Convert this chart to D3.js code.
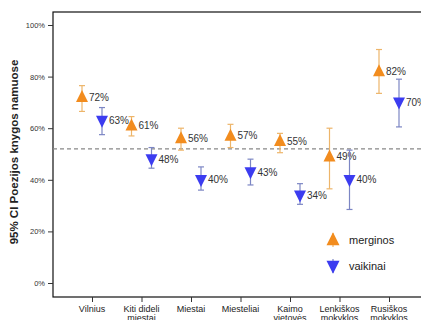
<!DOCTYPE html>
<html>
<head>
<meta charset="utf-8">
<script src="https://cdn.jsdelivr.net/npm/d3@7"></script>
<style>
  body { margin: 0; background: #fff; }
  svg text { font-family: Arial, "Liberation Sans", sans-serif; }
</style>
</head>
<body>
<div id="chart"></div>
<script>
const categories = [["Vilnius"], ["Kiti dideli", "miestai"], ["Miestai"], ["Miesteliai"],
    ["Kaimo", "vietovės"], ["Lenkiškos", "mokyklos"], ["Rusiškos", "mokyklos"]];
const girlsMean = [72, 61, 56, 57, 55, 49, 82];
const girlsLow = [66.5, 57, 51.5, 52.5, 50.5, 36.5, 73.5];
const girlsHigh = [76.5, 64.5, 60, 61.5, 58, 60, 90.5];
const boysMean = [63, 48, 40, 43, 34, 40, 70];
const boysLow = [57.5, 44.5, 36, 38, 30.5, 28.5, 60.5];
const boysHigh = [68, 52.5, 45, 48, 38.5, 51.5, 79];
const refLine = 52;
const yTicks = [0, 20, 40, 60, 80, 100];
const seriesNames = ["merginos", "vaikinai"];

const width = 421, height = 320;
const svg = d3.select('#chart').append('svg')
    .attr('width', width).attr('height', height);

const frame = { left: 53, top: 12, right: 428, bottom: 297 };

const x = d3.scalePoint()
    .domain(d3.range(categories.length))
    .range([92, 389]);
const y = d3.scaleLinear().domain([0, 100]).range([283, 25]);

// frame
svg.append("rect")
    .attr("x", frame.left).attr("y", frame.top)
    .attr("width", frame.right - frame.left)
    .attr("height", frame.bottom - frame.top)
    .attr("fill", "none").attr("stroke", "#111").attr("stroke-width", 1.2);

// y axis
const yAxis = svg.append("g")
    .attr("transform", `translate(${frame.left},0)`)
    .call(d3.axisLeft(y).tickValues(yTicks).tickSize(5).tickFormat(d => d + "%"));
yAxis.select(".domain").remove();
yAxis.selectAll("line").attr("stroke", "#333");
yAxis.selectAll("text").attr("font-size", 7.5).attr("fill", "#333")
    .attr("font-family", "Arial, 'Liberation Sans', sans-serif");

// x axis
const xAxis = svg.append("g")
    .attr("transform", `translate(0,${frame.bottom})`)
    .call(d3.axisBottom(x).tickSize(5).tickFormat(""));
xAxis.select(".domain").remove();
xAxis.selectAll("line").attr("stroke", "#333");
categories.forEach((lines, i) => {
    const t = svg.append("text")
        .attr("x", x(i)).attr("y", 312)
        .attr("text-anchor", "middle")
        .attr("font-size", 9).attr("fill", "#222");
    lines.forEach((l, j) => {
        t.append("tspan").attr("x", x(i)).attr("dy", j === 0 ? 0 : 9).text(l);
    });
});

// y title
svg.append("text")
    .attr("transform", `translate(18,152) rotate(-90)`)
    .attr("text-anchor", "middle")
    .attr("font-size", 11.5).attr("font-weight", "bold").attr("fill", "#222")
    .text("95% CI Poezijos knygos namuose");

// reference line
svg.append("line")
    .attr("x1", frame.left).attr("x2", frame.right)
    .attr("y1", y(refLine)).attr("y2", y(refLine))
    .attr("stroke", "#888").attr("stroke-width", 1.2)
    .attr("stroke-dasharray", "4,3");

const series = [
    { mean: girlsMean, low: girlsLow, high: girlsHigh, dx: -10, up: true,
      fill: "#F28C1E", bar: "#EDB56A" },
    { mean: boysMean, low: boysLow, high: boysHigh, dx: 10, up: false,
      fill: "#3C3CF0", bar: "#7C86C4" }
];

const tri = (cx, cy, up, s) => up
    ? `M${cx},${cy - s * 0.6}L${cx + s / 2},${cy + s * 0.4}L${cx - s / 2},${cy + s * 0.4}Z`
    : `M${cx},${cy + s * 0.6}L${cx + s / 2},${cy - s * 0.4}L${cx - s / 2},${cy - s * 0.4}Z`;

series.forEach(s => {
    const g = svg.append("g");
    s.mean.forEach((v, i) => {
        const cx = x(i) + s.dx;
        g.append("line")
            .attr("x1", cx).attr("x2", cx)
            .attr("y1", y(s.low[i])).attr("y2", y(s.high[i]))
            .attr("stroke", s.bar).attr("stroke-width", 1.2);
        [s.low[i], s.high[i]].forEach(e => {
            g.append("line")
                .attr("x1", cx - 3).attr("x2", cx + 3)
                .attr("y1", y(e)).attr("y2", y(e))
                .attr("stroke", s.bar).attr("stroke-width", 1.2);
        });
        g.append("path")
            .attr("d", tri(cx, y(v), s.up, 12))
            .attr("fill", s.fill);
        g.append("text")
            .attr("x", cx + 7).attr("y", y(v) + 3.5)
            .attr("font-size", 10).attr("fill", "#333")
            .text(v + "%");
    });
});

// legend
const legendY = [240, 266];
series.forEach((s, i) => {
    const cx = 333, cy = legendY[i];
    svg.append("line")
        .attr("x1", cx).attr("x2", cx)
        .attr("y1", cy - 7).attr("y2", cy + 7)
        .attr("stroke", s.bar).attr("stroke-width", 1.2);
    svg.append("path").attr("d", tri(cx, cy, s.up, 13)).attr("fill", s.fill);
    svg.append("text")
        .attr("x", 349).attr("y", cy + 4)
        .attr("font-size", 11).attr("fill", "#222")
        .text(seriesNames[i]);
});
</script>
</body>
</html>
